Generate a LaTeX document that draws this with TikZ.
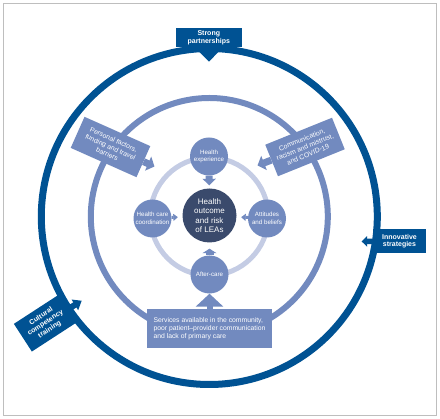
\documentclass[tikz,border=0pt]{standalone}
\usepackage{fontspec}
\setmainfont{Liberation Sans}
\usetikzlibrary{arrows.meta}
\definecolor{dblue}{RGB}{0,82,147}
\definecolor{mblue}{RGB}{114,138,191}
\definecolor{lblue}{RGB}{196,204,228}
\definecolor{navy}{RGB}{58,74,108}
\definecolor{framegray}{RGB}{190,190,190}
\begin{document}
\begin{tikzpicture}[x=1pt,y=-1pt,
  dbox/.style={fill=dblue, text=white, font=\fontsize{7}{7.8}\selectfont\bfseries, align=center, inner sep=0pt},
  mbox/.style={fill=mblue, text=white, font=\fontsize{6.8}{8}\selectfont, align=center, inner sep=0pt},
  bubble/.style={circle, fill=mblue, text=white, minimum size=38pt, inner sep=0pt, align=center, font=\fontsize{6.2}{7.6}\selectfont},
  core/.style={circle, fill=navy, text=white, minimum size=54pt, inner sep=0pt, align=center, font=\fontsize{8}{9.3}\selectfont},
  darr/.style={draw=dblue, line width=#1},
  marr/.style={draw=mblue, line width=#1}
]
\useasboundingbox (0,0) rectangle (440,419);
\draw[framegray, line width=1pt] (3.5,3.5) rectangle (436.5,415.5);

\coordinate (O) at (209.3,216.5);
\draw[dblue, line width=7pt] (O) circle[radius=168pt];
\draw[mblue, line width=6pt] (O) circle[radius=118.5pt];
\draw[lblue, line width=5pt] (O) circle[radius=59pt];

% inner nodes
\node[core] (cen) at (209.5,215.5) {Health\\outcome\\and risk\\of LEAs};
\node[bubble] (he) at (209,156.5) {Health\\experience};
\node[bubble] (hcc) at (152.5,218.5) {Health care\\coordination};
\node[bubble] (ab) at (267,218.5) {Attitudes\\and beliefs};
\node[bubble] (ac) at (209.5,274.5) {After-care};

\draw[marr=7pt, -{Triangle[width=13pt,length=6.5pt]}, shorten >=3pt] (he) -- (cen);
\draw[marr=3pt, -{Triangle[width=7pt,length=4.5pt]}, shorten >=4.5pt] (hcc) -- (cen);
\draw[marr=3pt, -{Triangle[width=7pt,length=4.5pt]}, shorten >=4.5pt] (ab) -- (cen);
\draw[marr=8pt, -{Triangle[width=14pt,length=4.5pt]}, shorten >=6pt] (ac) -- (cen);

% middle boxes
\node[mbox, rotate=-24, minimum width=72pt, minimum height=34pt] (pf) at (110.5,147) {Personal factors,\\funding and travel\\barriers};
\coordinate (pftip) at (154.5,166.5);
\draw[marr=7pt, -{Triangle[width=15pt,length=7pt]}] (pf) -- (pftip);

\node[mbox, rotate=22, minimum width=72pt, minimum height=34pt] (cm) at (305,147) {Communication,\\racism and mistrust,\\and COVID-19};
\coordinate (cmtip) at (257.5,165.5);
\draw[marr=7pt, -{Triangle[width=15pt,length=7pt]}] (cm) -- (cmtip);

\node[mbox, align=left, minimum width=125pt, minimum height=39pt] (svc) at (209.5,328.5) {Services available in the community,\\poor patient--provider communication\\and lack of primary care};
\draw[marr=6pt, -{Triangle[width=27pt,length=13pt]}] (svc) -- (ac);

% outer boxes
\node[dbox, minimum width=66pt, minimum height=19pt] (sp) at (208.8,37.8) {Strong\\partnerships};
\coordinate (sptip) at (209,61.7);
\draw[darr=8pt, -{Triangle[width=19pt,length=10pt]}] (sp) -- (sptip);

\node[dbox, minimum width=53pt, minimum height=24pt] (is) at (399.5,241.3) {Innovative\\strategies};
\coordinate (istip) at (361.7,241.5);
\draw[darr=5.5pt, -{Triangle[width=10.5pt,length=5.5pt]}] (is) -- (istip);

\node[dbox, rotate=33, minimum width=54pt, minimum height=33pt] (cct) at (45.5,323) {Cultural\\competency\\training};
\coordinate (ccttip) at (81.7,300.7);
\draw[darr=6pt, -{Triangle[width=12pt,length=8pt]}] (cct) -- (ccttip);
\end{tikzpicture}
\end{document}
